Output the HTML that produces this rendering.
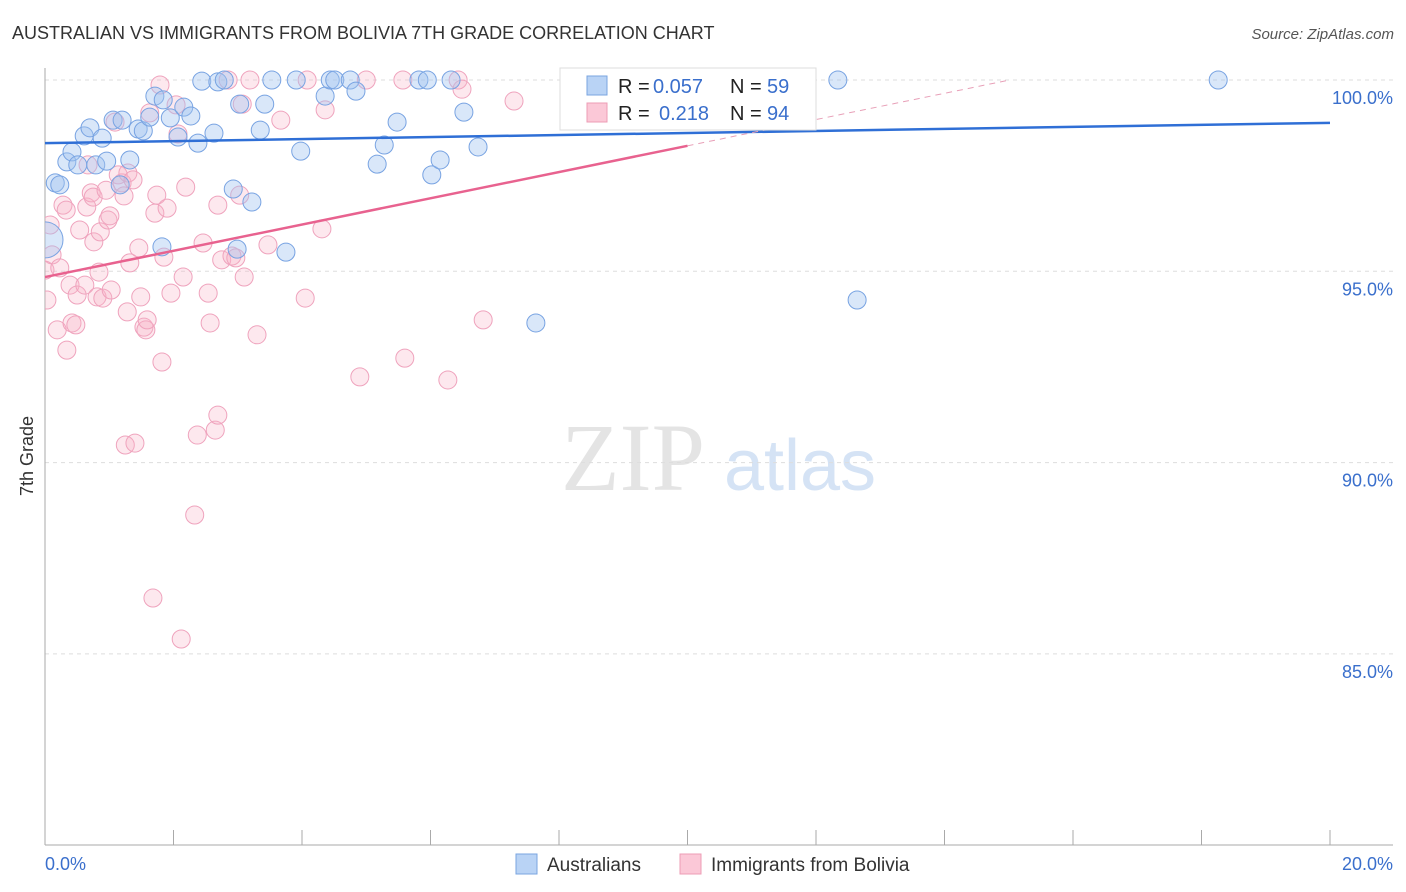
<!DOCTYPE html>
<html><head><meta charset="utf-8"><style>
body{margin:0;background:#fff;font-family:"Liberation Sans",sans-serif;}
#wrap{position:relative;width:1406px;height:892px;overflow:hidden;}
</style></head><body>
<div id="wrap">
<svg id="svg" width="1406" height="892" xmlns="http://www.w3.org/2000/svg">
<defs><clipPath id="plotclip"><rect x="45" y="0" width="1361" height="845"/></clipPath></defs>
<text x="12" y="39" font-size="18" fill="#333">AUSTRALIAN VS IMMIGRANTS FROM BOLIVIA 7TH GRADE CORRELATION CHART</text>
<text x="1394" y="39" font-size="15" fill="#555" text-anchor="end" font-style="italic">Source: ZipAtlas.com</text>
<text x="33" y="456" font-size="18" fill="#333" text-anchor="middle" transform="rotate(-90 33 456)">7th Grade</text>
<g><text x="633" y="490" font-size="96" font-family="Liberation Serif,serif" fill="#e4e4e4" text-anchor="middle">ZIP</text><text x="800" y="490" font-size="72" fill="#d5e3f5" text-anchor="middle">atlas</text></g>
<g id="grid"></g><g id="axes"></g><g id="pts" clip-path="url(#plotclip)"></g><g id="lines"></g>
<g>
<rect x="560" y="68" width="256" height="62" fill="#fff" stroke="#ddd"/>
<rect x="587" y="76" width="20" height="19" fill="#b9d3f5" stroke="#7aa5e0"/>
<rect x="587" y="103" width="20" height="19" fill="#fbc8d7" stroke="#ec9cb6"/>
<text x="618" y="93" font-size="20" fill="#222">R =</text><text x="653" y="93" font-size="20" fill="#3a6fcc">0.057</text>
<text x="730" y="93" font-size="20" fill="#222">N =</text><text x="767" y="93" font-size="20" fill="#3a6fcc">59</text>
<text x="618" y="120" font-size="20" fill="#222">R =</text><text x="659" y="120" font-size="20" fill="#3a6fcc">0.218</text>
<text x="730" y="120" font-size="20" fill="#222">N =</text><text x="767" y="120" font-size="20" fill="#3a6fcc">94</text>
</g>
<g>
<rect x="516" y="854" width="21" height="20" fill="#b9d3f5" stroke="#7aa5e0"/>
<text x="547" y="871" font-size="19" fill="#333">Australians</text>
<rect x="680" y="854" width="21" height="20" fill="#fbc8d7" stroke="#ec9cb6"/>
<text x="711" y="871" font-size="19" fill="#333">Immigrants from Bolivia</text>
</g>
</svg>
</div>
<script>
const xTicks=[0,2,4,6,8,10,12,14,16,18,20];
const yTicks=[100,95,90,85];
const yTickLabels=["100.0%","95.0%","90.0%","85.0%"];
const blueX=[0.16,0.23,0.00,0.34,0.42,0.51,0.61,0.70,0.79,0.89,0.96,1.06,1.20,1.17,1.32,1.45,1.53,1.63,1.71,1.84,1.95,2.07,2.16,2.27,2.38,2.44,2.63,2.69,2.79,2.93,2.99,3.03,3.22,3.35,3.42,3.53,3.75,3.91,3.98,4.36,4.44,4.51,4.75,4.84,5.17,5.28,5.48,5.82,5.95,6.02,6.15,6.32,6.52,6.74,7.64,12.34,12.64,18.26,1.82];
const blueY=[97.31,97.26,95.82,97.86,98.12,97.78,98.54,98.75,97.78,98.48,97.88,98.95,98.95,97.26,97.91,98.72,98.67,99.03,99.58,99.48,99.01,98.51,99.29,99.06,98.35,99.97,98.61,99.95,100,97.15,95.58,99.37,96.81,98.69,99.37,100,95.50,100,98.14,99.58,100,100,100,99.71,97.80,98.30,98.90,100,100,97.52,97.91,100,99.16,98.25,93.65,100,94.25,100,95.64];
const pinkX=[0.08,0.11,0.00,0.23,0.03,0.19,0.28,0.33,0.34,0.39,0.42,0.48,0.50,0.54,0.62,0.65,0.67,0.72,0.75,0.76,0.81,0.84,0.86,0.90,0.95,0.98,1.01,1.03,1.09,1.14,1.20,1.23,1.25,1.28,1.29,1.32,1.37,1.40,1.46,1.49,1.54,1.57,1.59,1.63,1.68,1.71,1.74,1.79,1.82,1.85,1.90,1.96,2.04,2.07,2.12,2.15,2.19,2.33,2.37,2.46,2.54,2.57,2.65,2.69,2.69,2.75,2.85,2.91,2.97,3.03,3.07,3.10,3.19,3.30,3.47,3.67,4.05,4.08,4.31,4.36,4.90,5.00,5.60,5.57,6.27,6.43,6.49,6.82,7.30];
const pinkY=[96.21,95.43,95.03,95.09,94.25,93.47,96.73,96.60,92.94,94.64,93.65,93.60,94.38,96.08,94.64,96.68,97.78,97.05,96.94,95.77,94.33,94.98,96.03,94.30,97.12,96.34,96.45,94.51,98.90,97.52,97.31,96.97,90.46,93.94,97.57,95.22,97.39,90.51,95.61,94.33,93.54,93.47,93.73,99.14,86.46,96.52,96.99,99.87,92.63,95.37,96.65,94.43,99.35,98.59,85.39,94.85,97.20,88.63,90.72,95.74,94.43,93.65,90.85,91.24,96.73,95.30,100,95.40,95.35,96.99,99.37,94.85,100,93.34,95.69,98.95,94.30,100,96.11,99.22,92.24,100,92.73,100,92.16,100,99.76,93.73,99.45];
const blueTrend=[98.35,98.88];
const pinkTrend=[94.85,0.343];
const NS="http://www.w3.org/2000/svg";
const X=v=>45+v/20*1285;
const Y=v=>80+(100-v)/5*191.3;
function mk(t,a,p){const e=document.createElementNS(NS,t);for(const k in a)e.setAttribute(k,a[k]);p.appendChild(e);return e;}
const grid=document.getElementById('grid'),axes=document.getElementById('axes'),pts=document.getElementById('pts'),lines=document.getElementById('lines');
yTicks.forEach((v,i)=>{
 const l=mk('line',{x1:45,x2:1393,y1:Y(v),y2:Y(v),stroke:'#ddd','stroke-dasharray':'4,4'},grid);
 
 
 const t=mk('text',{x:1393,y:Y(v)+24,'font-size':18,fill:'#3a6fcc','text-anchor':'end'},axes);
 t.textContent=yTickLabels[i];
 
 
});
mk('line',{x1:45,x2:45,y1:68,y2:845,stroke:'#aaa'},axes);
mk('line',{x1:45,x2:1393,y1:845,y2:845,stroke:'#aaa'},axes);
xTicks.forEach(v=>{const l=mk('line',{x1:X(v),x2:X(v),y1:830,y2:845,stroke:'#aaa'},axes);
 
 });
const t0=mk('text',{x:45,y:870,'font-size':18,fill:'#3a6fcc'},axes);t0.textContent="0.0%";


const t1=mk('text',{x:1393,y:870,'font-size':18,fill:'#3a6fcc','text-anchor':'end'},axes);t1.textContent="20.0%";


pinkX.forEach((x,i)=>{const c=mk('circle',{cx:X(x),cy:Y(pinkY[i]),r:9,fill:'rgba(247,178,200,0.3)',stroke:'#efa3bd','stroke-width':1},pts);
 
 });
blueX.forEach((x,i)=>{const c=mk('circle',{cx:X(x),cy:Y(blueY[i]),r:(i==2?18:9),fill:'rgba(160,196,240,0.4)',stroke:'#78a3e2','stroke-width':1},pts);
 
 });
const bl=mk('line',{x1:X(0),y1:Y(blueTrend[0]),x2:X(20),y2:Y(blueTrend[1]),stroke:'#2f6fd6','stroke-width':2.5},lines);


const xEnd=(100-pinkTrend[0])/pinkTrend[1];
const pl=mk('line',{x1:X(0),y1:Y(pinkTrend[0]),x2:X(10),y2:Y(pinkTrend[0]+10*pinkTrend[1]),stroke:'#e8628f','stroke-width':2.5},lines);


const pd=mk('line',{x1:X(10),y1:Y(pinkTrend[0]+10*pinkTrend[1]),x2:X(xEnd),y2:Y(100),stroke:'#e8a0b8','stroke-width':1,'stroke-dasharray':'6,5'},lines);


</script>
</body></html>
